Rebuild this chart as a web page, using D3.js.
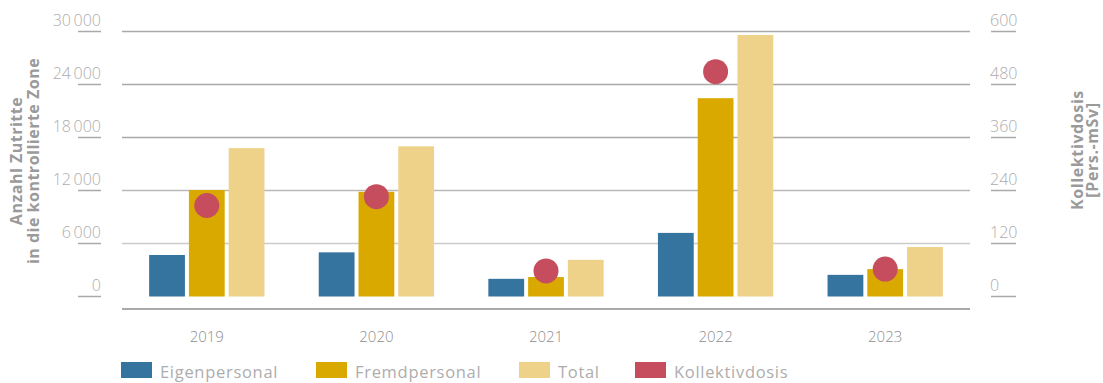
<!DOCTYPE html>
<html>
<head>
<meta charset="utf-8">
<script src="https://cdn.jsdelivr.net/npm/d3@7"></script>
<style>
  html, body { margin: 0; padding: 0; background: #fff; }
  svg { display: block; font-family: "Open Sans", "Noto Sans", sans-serif; }
</style>
</head>
<body>
<svg id="chart" width="1103" height="383"></svg>
<script>
// Jahre und Werte
const years = ["2019", "2020", "2021", "2022", "2023"];
const eigenpersonal = [4700, 5000, 2000, 7200, 2450];
const fremdpersonal = [12050, 11850, 2200, 22450, 3100];
const total = [16800, 17000, 4150, 29600, 5600];
const kollektivdosis = [206, 226, 58, 509, 62];

const leftTicks = [0, 6000, 12000, 18000, 24000, 30000];
const rightTicks = [0, 120, 240, 360, 480, 600];

const seriesNames = ["Eigenpersonal", "Fremdpersonal", "Total"];
const legendNames = ["Eigenpersonal", "Fremdpersonal", "Total", "Kollektivdosis"];
const colors = ["#3674a0", "#d9a900", "#efd28a", "#c54d5e"];

const svg = d3.select("#chart");
const plotLeft = 122, plotRight = 970, plotTop = 31.5, zeroY = 296.5, axisY = 309;

const x0 = d3.scaleBand().domain(years).range([plotLeft, plotRight])
  .paddingInner(0.32).paddingOuter(0.16);
const x1 = d3.scaleBand().domain(seriesNames).range([0, x0.bandwidth()])
  .paddingInner(0.1);
const yL = d3.scaleLinear().domain([0, 30000]).range([zeroY, plotTop]);
const yR = d3.scaleLinear().domain([0, 600]).range([zeroY, plotTop]);

const fmt = v => {
  const s = String(v);
  return s.length > 3 ? s.slice(0, -3) + "\u2009" + s.slice(-3) : s;
};

// Gitterlinien
const gridColors = { 6000: "#cbcbcb", 12000: "#b9b9b9" };
svg.append("g").selectAll("line")
  .data(leftTicks.filter(t => t > 0))
  .join("line")
  .attr("x1", plotLeft).attr("x2", plotRight)
  .attr("y1", d => yL(d)).attr("y2", d => yL(d))
  .attr("stroke", d => gridColors[d] || "#a9a9a9")
  .attr("stroke-width", 1.5);

// x-Achsenlinie
svg.append("line")
  .attr("x1", plotLeft).attr("x2", plotRight)
  .attr("y1", axisY).attr("y2", axisY)
  .attr("stroke", "#a9a9a9").attr("stroke-width", 2);

// linke Achse
const gL = svg.append("g");
leftTicks.forEach(t => {
  gL.append("line").attr("x1", 78).attr("x2", 101)
    .attr("y1", yL(t)).attr("y2", yL(t))
    .attr("stroke", "#a9a9a9").attr("stroke-width", 1.5);
  gL.append("text").attr("x", 101).attr("y", yL(t) - 6)
    .attr("text-anchor", "end").attr("fill", "#adadad")
    .attr("font-size", 16).attr("font-weight", 300)
    .text(fmt(t));
});

// rechte Achse
const gR = svg.append("g");
rightTicks.forEach(t => {
  gR.append("line").attr("x1", 991).attr("x2", 1016)
    .attr("y1", yR(t)).attr("y2", yR(t))
    .attr("stroke", "#a9a9a9").attr("stroke-width", 1.5);
  gR.append("text").attr("x", 990).attr("y", yR(t) - 6)
    .attr("text-anchor", "start").attr("fill", "#adadad")
    .attr("font-size", 16).attr("font-weight", 300)
    .text(fmt(t));
});

// Achsentitel
const leftTitle = svg.append("text")
  .attr("transform", "translate(0,161) rotate(-90)")
  .attr("text-anchor", "middle").attr("fill", "#9a9a9a")
  .attr("font-size", 16).attr("font-weight", 700)
  .attr("letter-spacing", 0.5);
leftTitle.append("tspan").attr("x", 0).attr("y", 22).text("Anzahl Zutritte");
leftTitle.append("tspan").attr("x", 0).attr("y", 38.5).text("in die kontrollierte Zone");

const rightTitle = svg.append("text")
  .attr("transform", "translate(0,150) rotate(-90)")
  .attr("text-anchor", "middle").attr("fill", "#9a9a9a")
  .attr("font-size", 16).attr("font-weight", 700)
  .attr("letter-spacing", 0.6);
rightTitle.append("tspan").attr("x", 0).attr("y", 1082.5).text("Kollektivdosis");
rightTitle.append("tspan").attr("x", 0).attr("y", 1098).text("[Pers.-mSv]");

// Balken
const rows = years.map((y, i) => ({
  year: y,
  values: [eigenpersonal[i], fremdpersonal[i], total[i]]
}));
svg.append("g").selectAll("g")
  .data(rows)
  .join("g")
  .attr("transform", d => `translate(${x0(d.year)},0)`)
  .selectAll("rect")
  .data(d => d.values.map((v, k) => ({ key: seriesNames[k], v, k })))
  .join("rect")
  .attr("x", d => x1(d.key))
  .attr("width", x1.bandwidth())
  .attr("y", d => yL(d.v))
  .attr("height", d => zeroY - yL(d.v))
  .attr("fill", d => colors[d.k]);

// Kollektivdosis-Punkte
svg.append("g").selectAll("circle")
  .data(years.map((y, i) => ({ year: y, v: kollektivdosis[i] })))
  .join("circle")
  .attr("cx", d => x0(d.year) + x1("Fremdpersonal") + x1.bandwidth() / 2)
  .attr("cy", d => yR(d.v))
  .attr("r", 12.5)
  .attr("fill", colors[3]);

// Jahresbeschriftung
svg.append("g").selectAll("text")
  .data(years)
  .join("text")
  .attr("x", d => x0(d) + x0.bandwidth() / 2)
  .attr("y", 342)
  .attr("text-anchor", "middle").attr("fill", "#8f8f8f")
  .attr("font-size", 15).attr("font-weight", 300)
  .text(d => d);

// Legende
const legendX = [121, 316, 519, 635];
const lg = svg.append("g").selectAll("g")
  .data(legendNames)
  .join("g")
  .attr("transform", (d, i) => `translate(${legendX[i]},362)`);
lg.append("rect").attr("width", 31).attr("height", 16)
  .attr("fill", (d, i) => colors[i]);
lg.append("text").attr("x", 39).attr("y", 15.5)
  .attr("fill", "#adadad").attr("font-size", 16.5).attr("font-weight", 400)
  .attr("letter-spacing", 0.7)
  .text(d => d);
</script>
</body>
</html>
